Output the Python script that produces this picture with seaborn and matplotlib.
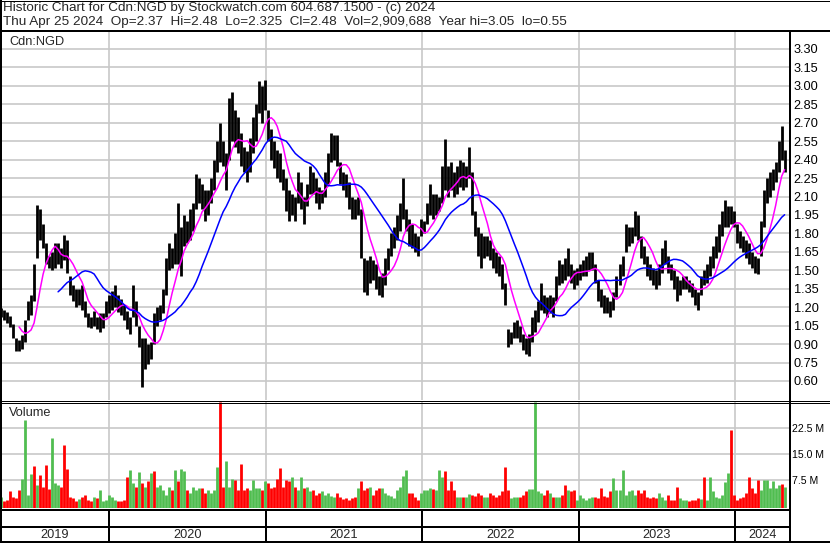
import numpy as np
import pandas as pd
import matplotlib
matplotlib.use("Agg")
import matplotlib.pyplot as plt
import seaborn as sns
from matplotlib.lines import Line2D

weeks = pd.date_range("2019-04-25", "2024-04-25", freq="7D")

hi = [1.19, 1.18, 1.16, 1.13, 1.06, 0.95, 0.93, 0.97, 1.10, 1.25,
      1.30, 1.55, 2.03, 2.00, 1.88, 1.72, 1.62, 1.65, 1.72, 1.72,
      1.68, 1.79, 1.75, 1.45, 1.38, 1.35, 1.35, 1.38, 1.25, 1.15,
      1.12, 1.17, 1.12, 1.15, 1.15, 1.25, 1.30, 1.33, 1.38, 1.30,
      1.27, 1.22, 1.17, 1.12, 1.38, 1.25, 1.05, 0.95, 0.95, 0.90,
      0.92, 1.15, 1.20, 1.22, 1.35, 1.60, 1.72, 1.68, 1.80, 2.05,
      1.85, 1.95, 1.90, 2.00, 2.05, 2.28, 2.25, 2.20, 2.15, 2.15,
      2.25, 2.40, 2.55, 2.70, 2.55, 2.45, 2.90, 2.95, 2.80, 2.75,
      2.62, 2.50, 2.47, 2.58, 2.75, 2.85, 3.04, 3.00, 3.05, 2.80,
      2.65, 2.55, 2.48, 2.45, 2.32, 2.25, 2.15, 2.12, 2.10, 2.30,
      2.22, 2.10, 2.20, 2.35, 2.30, 2.25, 2.18, 2.15, 2.30, 2.45,
      2.62, 2.60, 2.60, 2.38, 2.30, 2.28, 2.22, 2.10, 2.08, 2.10,
      2.00, 1.60, 1.58, 1.62, 1.58, 1.55, 1.45, 1.48, 1.60, 1.68,
      1.80, 1.85, 1.95, 2.05, 2.25, 2.00, 1.92, 1.88, 1.80, 1.78,
      1.92, 1.90, 2.05, 2.20, 2.12, 2.12, 2.10, 2.35, 2.57, 2.35,
      2.38, 2.30, 2.35, 2.40, 2.38, 2.35, 2.50, 2.30, 1.98, 1.85,
      1.80, 1.78, 1.78, 1.75, 1.68, 1.65, 1.62, 1.55, 1.40, 1.02,
      1.00, 1.08, 1.10, 1.05, 0.98, 0.95, 0.98, 1.12, 1.18, 1.25,
      1.40, 1.30, 1.28, 1.30, 1.28, 1.45, 1.58, 1.55, 1.60, 1.68,
      1.55, 1.50, 1.52, 1.55, 1.58, 1.62, 1.65, 1.65, 1.55, 1.42,
      1.35, 1.30, 1.28, 1.25, 1.32, 1.45, 1.55, 1.62, 1.88, 1.85,
      1.85, 1.98, 1.95, 1.78, 1.70, 1.62, 1.55, 1.52, 1.50, 1.55,
      1.68, 1.75, 1.62, 1.55, 1.50, 1.45, 1.42, 1.45, 1.45, 1.42,
      1.40, 1.35, 1.32, 1.45, 1.50, 1.55, 1.62, 1.70, 1.78, 1.88,
      1.98, 2.07, 2.02, 2.02, 1.98, 1.88, 1.82, 1.78, 1.75, 1.72,
      1.65, 1.62, 1.60, 1.90, 2.15, 2.25, 2.30, 2.32, 2.38, 2.55, 2.67, 2.48]

lo = [1.12, 1.10, 1.07, 1.04, 0.95, 0.84, 0.84, 0.86, 0.92, 1.10,
      1.14, 1.25, 1.60, 1.75, 1.68, 1.55, 1.52, 1.50, 1.52, 1.55,
      1.52, 1.58, 1.48, 1.30, 1.25, 1.20, 1.22, 1.18, 1.12, 1.04,
      1.03, 1.05, 1.02, 1.00, 1.03, 1.12, 1.15, 1.18, 1.20, 1.16,
      1.14, 1.10, 1.02, 0.98, 1.12, 1.05, 0.88, 0.55, 0.70, 0.74,
      0.78, 0.90, 1.05, 1.10, 1.15, 1.30, 1.50, 1.52, 1.55, 1.55,
      1.45, 1.70, 1.72, 1.75, 1.82, 2.00, 2.05, 2.00, 1.90, 1.95,
      2.05, 2.15, 2.30, 2.38, 2.35, 2.15, 2.40, 2.55, 2.50, 2.45,
      2.35, 2.30, 2.22, 2.30, 2.45, 2.55, 2.78, 2.70, 2.80, 2.55,
      2.40, 2.33, 2.25, 2.22, 2.15, 1.98, 1.90, 1.95, 1.90, 2.05,
      2.00, 1.88, 2.02, 2.12, 2.12, 2.05, 2.00, 2.05, 2.10, 2.20,
      2.38, 2.40, 2.35, 2.20, 2.15, 2.10, 2.00, 1.92, 1.92, 1.95,
      1.60, 1.32, 1.30, 1.40, 1.42, 1.35, 1.30, 1.28, 1.38, 1.50,
      1.62, 1.68, 1.75, 1.82, 1.92, 1.82, 1.70, 1.68, 1.65, 1.62,
      1.78, 1.80, 1.88, 1.95, 1.92, 1.95, 1.98, 2.05, 2.15, 2.10,
      2.15, 2.10, 2.12, 2.18, 2.15, 2.18, 2.25, 1.95, 1.78, 1.62,
      1.52, 1.60, 1.62, 1.58, 1.52, 1.48, 1.45, 1.35, 1.22, 0.88,
      0.90, 0.95, 0.95, 0.92, 0.85, 0.82, 0.80, 0.92, 1.00, 1.08,
      1.18, 1.15, 1.12, 1.15, 1.12, 1.25, 1.38, 1.40, 1.42, 1.45,
      1.40, 1.35, 1.38, 1.42, 1.45, 1.45, 1.50, 1.50, 1.40, 1.25,
      1.20, 1.15, 1.15, 1.12, 1.18, 1.28, 1.38, 1.45, 1.65, 1.70,
      1.72, 1.78, 1.75, 1.60, 1.55, 1.45, 1.42, 1.38, 1.35, 1.38,
      1.48, 1.55, 1.48, 1.42, 1.35, 1.25, 1.30, 1.35, 1.35, 1.32,
      1.28, 1.22, 1.18, 1.30, 1.38, 1.40, 1.45, 1.52, 1.60, 1.65,
      1.78, 1.85, 1.85, 1.88, 1.85, 1.72, 1.68, 1.65, 1.60, 1.55,
      1.52, 1.48, 1.47, 1.62, 1.85, 2.05, 2.10, 2.15, 2.22, 2.30, 2.40, 2.30]

# volume in millions (visible bar height per week)
vol_m = [2.7, 1.3, 1.7, 4.2, 2.7, 2.2, 4.6, 7.7, 25.0, 3.2,
         9.3, 11.6, 6.1, 9.0, 5.6, 11.9, 4.8, 19.7, 6.6, 6.1,
         5.6, 17.7, 10.6, 2.7, 2.2, 1.3, 1.9, 2.7, 3.2, 1.7,
         1.3, 2.5, 2.2, 4.6, 1.3, 1.7, 3.2, 2.7, 1.7, 1.3,
         1.3, 1.7, 8.3, 10.5, 6.6, 5.6, 9.7, 6.6, 5.6, 7.1,
         9.5, 10.0, 5.6, 6.1, 4.6, 3.2, 5.6, 4.6, 10.5, 7.1,
         10.7, 10.0, 4.6, 3.7, 5.6, 4.6, 5.1, 5.1, 3.7, 4.6,
         3.7, 4.6, 11.4, 30.0, 5.6, 13.1, 5.6, 7.7, 7.4, 4.6,
         12.2, 4.6, 5.1, 4.6, 7.4, 5.1, 5.1, 4.6, 7.1, 6.6,
         5.1, 5.6, 7.7, 10.9, 5.6, 7.6, 7.1, 8.3, 5.6, 4.6,
         8.3, 5.1, 5.6, 4.2, 4.6, 3.2, 3.7, 4.2, 3.2, 3.7,
         2.9, 2.7, 3.7, 2.7, 1.9, 2.2, 1.7, 2.2, 2.5, 5.1,
         7.1, 4.6, 5.1, 5.6, 3.2, 4.6, 5.1, 5.1, 3.7, 3.2,
         2.9, 2.2, 4.6, 5.6, 8.7, 10.5, 3.7, 3.7, 2.7, 1.7,
         3.7, 4.6, 4.6, 5.1, 4.8, 4.6, 10.5, 8.5, 10.2, 4.6,
         7.3, 4.6, 2.7, 2.7, 2.5, 2.5, 3.5, 3.2, 2.9, 3.7,
         3.2, 2.7, 2.7, 3.7, 3.2, 2.7, 3.2, 4.2, 11.4, 4.6,
         2.2, 2.7, 2.5, 2.7, 3.2, 4.2, 4.8, 4.8, 30.0, 4.2,
         3.7, 3.2, 4.6, 3.7, 2.7, 2.7, 2.7, 3.2, 6.1, 4.6,
         4.2, 4.6, 1.7, 3.2, 2.2, 1.7, 2.2, 2.7, 2.7, 2.2,
         5.1, 2.9, 2.7, 4.2, 8.0, 4.6, 4.6, 10.5, 3.2, 4.2,
         4.6, 3.2, 4.6, 3.7, 4.6, 2.7, 2.2, 2.7, 2.2, 3.7,
         2.7, 1.7, 3.2, 1.7, 1.7, 5.6, 2.2, 1.7, 1.7, 1.3,
         1.7, 1.7, 2.2, 1.9, 8.3, 1.7, 8.3, 4.2, 2.7, 2.2,
         3.2, 6.8, 9.5, 22.1, 3.2, 1.7, 2.2, 2.5, 3.7, 8.5,
         5.1, 3.7, 7.4, 4.6, 7.6, 7.6, 5.1, 7.1, 5.1, 6.1, 6.3, 5.6]

# colour of the tall volume bars as seen on the chart (g = up, r = down)
spike_color = {8: "g", 10: "g", 11: "r", 13: "r", 15: "r", 17: "g", 21: "r", 22: "r",
               42: "r", 43: "g", 46: "g", 50: "g", 51: "r", 58: "g", 59: "r", 60: "g",
               61: "g", 72: "g", 73: "r", 75: "g", 77: "g", 78: "r", 80: "r", 93: "r",
               97: "g", 100: "g", 120: "r", 134: "g", 135: "g", 146: "g", 147: "g",
               148: "r", 150: "r", 168: "r", 178: "g", 188: "r", 200: "r", 204: "g",
               207: "g", 225: "r", 234: "r", 236: "g", 241: "g", 242: "g", 243: "r",
               249: "r", 252: "r", 254: "g", 255: "g", 257: "g", 260: "r", 261: "g"}

header1 = "Historic Chart for Cdn:NGD by Stockwatch.com 604.687.1500 - (c) 2024"
header2 = ("Thu Apr 25 2024  Op=2.37  Hi=2.48  Lo=2.325  Cl=2.48  "
           "Vol=2,909,688  Year hi=3.05  lo=0.55")
price_ticks = [0.60, 0.75, 0.90, 1.05, 1.20, 1.35, 1.50, 1.65, 1.80, 1.95,
               2.10, 2.25, 2.40, 2.55, 2.70, 2.85, 3.00, 3.15, 3.30]
vol_ticks = [7.5, 15.0, 22.5]
years = [2019, 2020, 2021, 2022, 2023, 2024]

df = pd.DataFrame({"date": weeks, "hi": hi, "lo": lo, "vol": vol_m})
df["mid"] = (df["hi"] + df["lo"]) / 2
df["ma_short"] = df["mid"].rolling(7).mean()
df["ma_long"] = df["mid"].rolling(20).mean()
up = df["mid"].diff().fillna(0) >= 0
GREEN, RED = "#50bd50", "#ff0000"
cols = [GREEN if u else RED for u in up]
for k, c in spike_color.items():
    cols[k] = GREEN if c == "g" else RED

sns.set_theme(style="white")
plt.rcParams["font.family"] = ["Liberation Sans", "DejaVu Sans"]
FS = 9.2
GRID = "#c8c8c8"

W, H = 830, 543
fig = plt.figure(figsize=(W / 100, H / 100), dpi=100)


def box(x0, y0, x1, y1):
    return [x0 / W, 1 - y1 / H, (x1 - x0) / W, (y1 - y0) / H]


def line(x0, y0, x1, y1, px=2):
    fig.add_artist(Line2D([x0 / W, x1 / W], [1 - y0 / H, 1 - y1 / H],
                          transform=fig.transFigure, color="black",
                          lw=px * 0.72, solid_capstyle="butt"))


# x scale: 2020-01-01 at px 108.7, 2024-01-01 at px 735.3
px_per_day = (735.3 - 108.7) / 1461
x_left = pd.Timestamp("2020-01-01") - pd.Timedelta(days=108.7 / px_per_day)
x_right = pd.Timestamp("2020-01-01") + pd.Timedelta(days=(789 - 108.7) / px_per_day)
year_starts = [pd.Timestamp(f"{y}-01-01") for y in years[1:]]

# price panel
ax = fig.add_axes(box(0, 31, 789, 400))
ax.set_xlim(x_left, x_right)
ax.set_ylim(0.4455, 3.446)
ax.set_yticks(price_ticks)
ax.set_yticklabels([f"{t:.2f}" for t in price_ticks])
ax.yaxis.tick_right()
ax.tick_params(axis="y", length=0, pad=3.5, labelsize=FS, colors="black")
ax.set_xticks([])
ax.grid(axis="y", color=GRID, lw=1.2)
for ys in year_starts:
    ax.axvline(ys, color=GRID, lw=1.2, zorder=0)
ax.vlines(df["date"], df["lo"], df["hi"], color="black", lw=2.0)
sns.lineplot(data=df, x="date", y="ma_short", color="#ff00ff", lw=1.1, ax=ax)
sns.lineplot(data=df, x="date", y="ma_long", color="#0000ff", lw=1.1, ax=ax)
ax.set_xlabel("")
ax.set_ylabel("")
for s in ax.spines.values():
    s.set_visible(False)

# volume panel
axv = fig.add_axes(box(0, 402, 789, 508))
axv.set_xlim(x_left, x_right)
vbot = -0.61
axv.set_ylim(vbot, 30.14)
axv.set_yticks(vol_ticks)
axv.set_yticklabels([f"{t:.1f} M" for t in vol_ticks])
axv.yaxis.tick_right()
axv.tick_params(axis="y", length=0, pad=2.5, labelsize=7.6, colors="black")
axv.set_xticks([])
axv.grid(axis="y", color=GRID, lw=1.2)
for ys in year_starts:
    axv.axvline(ys, color=GRID, lw=1.2, zorder=0)
axv.vlines(df["date"], vbot, df["vol"], colors=cols, lw=2.0)
for s in axv.spines.values():
    s.set_visible(False)

# date strip
axd = fig.add_axes(box(0, 509, 789, 542))
axd.set_xlim(x_left, x_right)
axd.set_ylim(542, 509)
axd.axis("off")
bounds = [x_left] + year_starts + [x_right]
for i, y in enumerate(years):
    mid = bounds[i] + (bounds[i + 1] - bounds[i]) / 2
    axd.text(mid, 534.5, str(y), ha="center", va="center", fontsize=FS)
for ys in year_starts:
    axd.axvline(ys, color="black", lw=1.44)

# frame lines
line(0, 31, W, 31)
line(0, 400.5, W, 400.5, 1)
line(0, 402.5, W, 402.5, 1)
line(0, 509.5, 789, 509.5)
line(0, 526.5, 789, 526.5)
line(0, 542, W, 542)
line(1, 0, 1, H)
line(789.5, 31, 789.5, H)
line(0, 0.5, W, 0.5, 1)
line(829.5, 0, 829.5, H, 1)

# header and panel labels
fig.text(3 / W, 1 - 8 / H, header1, ha="left", va="center", fontsize=9.7)
fig.text(3 / W, 1 - 22 / H, header2, ha="left", va="center", fontsize=9.7)
fig.text(9 / W, 1 - 42 / H, "Cdn:NGD", ha="left", va="center", fontsize=FS)
fig.text(9 / W, 1 - 413 / H, "Volume", ha="left", va="center", fontsize=FS)

fig.savefig("out.png", dpi=100)
